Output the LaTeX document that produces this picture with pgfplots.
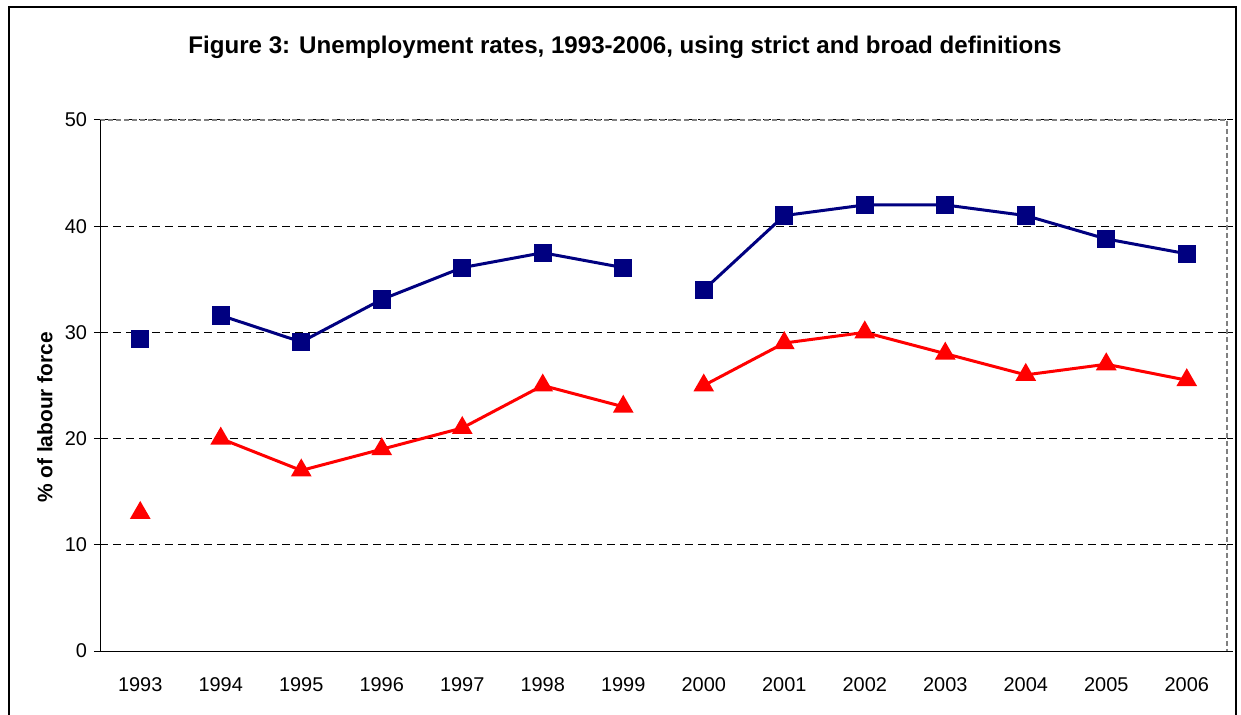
\documentclass[border=0pt]{standalone}
\usepackage{pgfplots}
\pgfplotsset{compat=1.18}
\usepackage{fontspec}
\setmainfont{Liberation Sans}
\definecolor{navy}{RGB}{0,0,128}
\definecolor{bordergray}{RGB}{128,128,128}
\begin{document}
\begin{tikzpicture}
\useasboundingbox (0,0) rectangle (620.5bp,357.5bp);
\fill[white] (0,0) rectangle (620.5bp,357.5bp);
\draw[line width=1bp, black] (4.5bp,-5bp) rectangle (618bp,354bp);
\node[font=\fontsize{12.1}{14}\selectfont\bfseries] at (312.5bp,334bp) {Figure 3: Unemployment rates, 1993-2006, using strict and broad definitions};
\begin{axis}[
  at={(50bp,32bp)}, anchor=south west,
  scale only axis, width=563.5bp, height=265.5bp,
  xmin=-0.5, xmax=13.5, ymin=0, ymax=50,
  xtick={0,...,13},
  xticklabels={1993,1994,1995,1996,1997,1998,1999,2000,2001,2002,2003,2004,2005,2006},
  minor xtick={-0.5,0.5,...,13.5},
  ytick={0,10,...,50},
  tick align=outside,
  major tick length=3bp, minor tick length=3bp,
  xtick style={draw=none},
  minor x tick style={black, line width=0.5bp},
  ytick style={black, line width=0.5bp},
  axis line style={draw=none},
  ymajorgrids,
  major grid style={black, line width=0.5bp, dash pattern=on 4bp off 2.5bp},
  tick label style={font=\fontsize{10}{12}\selectfont},
  xticklabel style={yshift=-7bp},
  /pgf/number format/assume math mode=true,
  ylabel={\% of labour force},
  ylabel style={font=\fontsize{10.5}{12}\selectfont\bfseries, at={(axis description cs:-0.049,0.44)}, anchor=center, rotate=0},
  unbounded coords=jump,
  clip=false,
]
\draw[bordergray, line width=1bp, dash pattern=on 2.5bp off 1.5bp] (rel axis cs:0,1) -- (rel axis cs:1,1) -- (rel axis cs:1,0);
\draw[black, line width=0.5bp] (rel axis cs:0,1) -- (rel axis cs:0,0) -- (rel axis cs:1,0);
\addplot[navy, line width=1.5bp, mark=square*, mark size=3.8bp, mark options={solid, fill=navy}] table[row sep=\\] {
x y\\
0 29.4\\
0.5 nan\\
1 31.6\\
2 29.1\\
3 33.1\\
4 36.1\\
5 37.5\\
6 36.1\\
6.5 nan\\
7 34.0\\
8 41.0\\
9 42.0\\
10 42.0\\
11 41.0\\
12 38.8\\
13 37.4\\
};
\addplot[red, line width=1.5bp, mark=triangle*, mark size=4.5bp, mark options={solid, fill=red}] table[row sep=\\] {
x y\\
0 13.0\\
0.5 nan\\
1 20.0\\
2 17.0\\
3 19.0\\
4 21.0\\
5 25.0\\
6 23.0\\
6.5 nan\\
7 25.0\\
8 29.0\\
9 30.0\\
10 28.0\\
11 26.0\\
12 27.0\\
13 25.5\\
};
\end{axis}
\end{tikzpicture}
\end{document}
